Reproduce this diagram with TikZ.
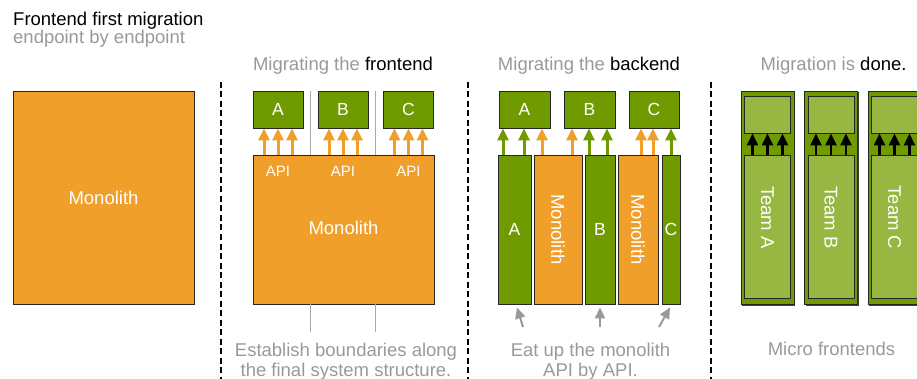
\documentclass[tikz,border=0pt]{standalone}
\usepackage{fontspec}
\setmainfont{Liberation Sans}
\usetikzlibrary{arrows.meta,calc}
\definecolor{org}{RGB}{240,159,42}
\definecolor{grn}{RGB}{112,155,0}
\definecolor{lgrn}{RGB}{151,182,66}
\definecolor{gtxt}{RGB}{153,153,153}
\definecolor{glin}{RGB}{170,170,170}
\begin{document}
\begin{tikzpicture}[x=1pt,y=-1pt,
  box/.style={draw=black!85,line width=0.9pt,inner sep=0pt,text=white},
  big/.style={font=\fontsize{18.5}{22}\selectfont},
  mid/.style={font=\fontsize{17.5}{20}\selectfont},
  small/.style={font=\fontsize{15}{18}\selectfont},
  lbl/.style={inner sep=0pt,anchor=base},
  oarr/.style={draw=org,line width=3pt,-{Triangle[width=11pt,length=12pt]}},
  garr/.style={draw=grn,line width=3pt,-{Triangle[width=11pt,length=12pt]}},
  karr/.style={draw=black,line width=2.4pt,-{Triangle[width=11pt,length=12pt]}},
  grarr/.style={draw=gtxt,line width=2pt,-{Triangle[width=10pt,length=11pt]}},
  gl/.style={draw=glin,line width=1pt},
  sep/.style={draw=black,line width=1.1pt,dash pattern=on 6pt off 3.5pt}]
\useasboundingbox (0,0) rectangle (917,379);

% header
\node[lbl,anchor=base west,big] (title) at (13,26) {Frontend first migration};
\node[lbl,anchor=base west,big,text=gtxt] (subtitle) at (13,44) {endpoint by endpoint};

% separators
\draw[sep] (221,82) -- (221,379);
\draw[sep] (468,82) -- (468,379);
\draw[sep] (711,82) -- (711,379);

% section 1
\node[box,fill=org,minimum width=181pt,minimum height=213pt,big] (m1) at (103.5,197.5) {Monolith};

% section 2
\node[lbl,big,text=gtxt] (s2t) at (343,71) {Migrating the \textcolor{black}{frontend}};
\node[box,fill=grn,minimum width=50pt,minimum height=37pt,mid] (bA) at (278,109.5) {A};
\node[box,fill=grn,minimum width=50pt,minimum height=37pt,mid] (bB) at (343,109.5) {B};
\node[box,fill=grn,minimum width=50pt,minimum height=37pt,mid] (bC) at (408.5,109.5) {C};
\node[box,fill=org,minimum width=181pt,minimum height=149pt] (m2) at (343.5,229.5) {};
\node[big,text=white] (m2l) at (343.5,228) {Monolith};
\coordinate (g1) at (310.5,91);
\coordinate (g2) at (375.5,91);
\draw[gl] (g1) -- (g1 |- m2.north);
\draw[gl] (g2) -- (g2 |- m2.north);
\draw[gl] (g1 |- m2.south) -- ++(0,28);
\draw[gl] (g2 |- m2.south) -- ++(0,28);
\foreach \b in {bA,bB,bC}{
  \foreach \d in {-14,0,14}{
    \path ([xshift=\d pt]\b.south) coordinate (tmp);
    \draw[oarr] (tmp |- m2.north) -- (tmp);
  }
  \node[lbl,small,text=white] at ([yshift=-48pt]\b.south) {API};
}
\node[lbl,big,text=gtxt] (s2b1) at (346,356) {Establish boundaries along};
\node[lbl,big,text=gtxt] (s2b2) at (346,376) {the final system structure.};

% section 3
\node[lbl,big,text=gtxt] (s3t) at (589,71) {Migrating the \textcolor{black}{backend}};
\node[box,fill=grn,minimum width=51pt,minimum height=37pt,mid] (cbA) at (524.5,109.5) {A};
\node[box,fill=grn,minimum width=51pt,minimum height=37pt,mid] (cbB) at (589.5,109.5) {B};
\node[box,fill=grn,minimum width=50pt,minimum height=37pt,mid] (cbC) at (654,109.5) {C};
\node[box,fill=grn,minimum width=33pt,minimum height=149pt,mid] (cA) at (514.5,229.5) {A};
\node[box,fill=org,minimum width=48pt,minimum height=149pt] (cM1) at (558,229.5) {};
\node[box,fill=grn,minimum width=30pt,minimum height=149pt,mid] (cB) at (600,229.5) {B};
\node[box,fill=org,minimum width=40pt,minimum height=149pt] (cM2) at (638,229.5) {};
\node[box,fill=grn,minimum width=18pt,minimum height=149pt,mid] (cC) at (671,229.5) {C};
\node[big,text=white,rotate=-90] (cM1l) at (cM1) {Monolith};
\node[big,text=white,rotate=-90] (cM2l) at (cM2) {Monolith};
\foreach \x/\s/\t/\st in {503/cA/cbA/garr, 524/cA/cbA/garr, 542/cM1/cbA/oarr,
    572/cM1/cbB/oarr, 589/cB/cbB/garr, 607/cB/cbB/garr,
    641/cM2/cbC/oarr, 653/cM2/cbC/oarr, 671/cC/cbC/garr}{
  \coordinate (tmp) at (\x,0);
  \draw[\st] (tmp |- \s.north) -- (tmp |- \t.south);
}
\coordinate (q1) at (523,327);
\coordinate (q2) at (600,327);
\coordinate (q3) at (659,327);
\draw[grarr] (q1) -- ([xshift=2.5pt,yshift=-3pt]cA.south);
\draw[grarr] (q2) -- ([yshift=-3pt]cB.south);
\draw[grarr] (q3) -- ([xshift=-1pt,yshift=-3pt]cC.south);
\node[lbl,big,text=gtxt] (s3b1) at (590.5,356) {Eat up the monolith};
\node[lbl,big,text=gtxt] (s3b2) at (590.5,376) {API by API.};

% section 4
\node[lbl,big,text=gtxt] (s4t) at (833.5,71) {Migration is \textcolor{black}{done.}};
\foreach \i/\cx/\lab in {1/767.5/A,2/831/B,3/894.5/C}{
  \fill[black!75] (\cx-26.5+1.2,91+1.5) rectangle (\cx+26.5+1.2,304+1.5);
  \node[box,fill=grn,minimum width=53pt,minimum height=213pt] (T\i) at (\cx,197.5) {};
  \node[box,fill=lgrn,minimum width=46pt,minimum height=37pt] (U\i) at (\cx,114.5) {};
  \node[box,fill=lgrn,minimum width=46pt,minimum height=143pt] (L\i) at (\cx,226.5) {};
  \node[big,text=white,rotate=-90] (TL\i) at ([yshift=9pt]L\i.center) {Team \lab};
  \foreach \d in {-15,0,15}{
    \draw[karr] ([xshift=\d pt]L\i.north) -- ([xshift=\d pt]U\i.south);
  }
}
\node[lbl,big,text=gtxt] (s4b) at (831.5,355) {Micro frontends};
\end{tikzpicture}
\end{document}
